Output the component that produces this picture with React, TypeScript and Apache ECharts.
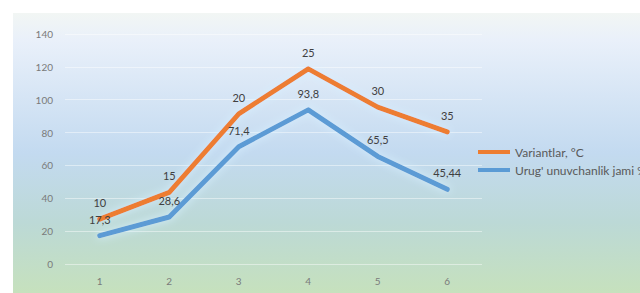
import React, { useEffect, useRef } from "react";
import * as echarts from "echarts";

const categories = ["1", "2", "3", "4", "5", "6"];
const variantValues = [10, 15, 20, 25, 30, 35];
const germinationValues = [17.3, 28.6, 71.4, 93.8, 65.5, 45.44];
const seriesNames = ["Variantlar, °C", "Urug' unuvchanlik jami %"];

const FONT = "Lato, 'Open Sans', sans-serif";
const fmt = (v: number) => String(v).replace(".", ",");

export default function App() {
  const ref = useRef<HTMLDivElement>(null);
  useEffect(() => {
    if (!ref.current) return;
    const chart = echarts.init(ref.current, undefined, { renderer: "svg" });
    chart.setOption({
      animation: false,
      graphic: [
        {
          type: "rect",
          z: -10,
          silent: true,
          shape: { x: 13, y: 13, width: 627, height: 280 },
          style: {
            fill: new echarts.graphic.LinearGradient(0, 0, 0, 1, [
              { offset: 0, color: "#f2f6f4" },
              { offset: 0.1, color: "#e9f0fa" },
              { offset: 0.5, color: "#c3daf0" },
              { offset: 0.75, color: "#bcd9d6" },
              { offset: 1, color: "#c6e1bd" },
            ]),
          },
        },
      ],
      grid: { left: 65, right: 158, top: 34, bottom: 29, containLabel: false },
      legend: {
        orient: "vertical",
        left: 473,
        top: 141,
        padding: 5,
        itemWidth: 32,
        itemHeight: 4,
        itemGap: 6,
        icon: "rect",
        data: seriesNames,
        textStyle: { fontFamily: FONT, fontSize: 12, color: "#595959" },
      },
      xAxis: {
        type: "category",
        data: categories,
        boundaryGap: true,
        axisLine: { show: false },
        axisTick: { show: false },
        axisLabel: { fontFamily: FONT, fontSize: 10, color: "#7a7a7a", margin: 12 },
      },
      yAxis: {
        type: "value",
        min: 0,
        max: 140,
        interval: 20,
        axisLine: { show: false },
        axisTick: { show: false },
        axisLabel: { fontFamily: FONT, fontSize: 10, color: "#7a7a7a", margin: 12 },
        splitLine: { lineStyle: { color: "rgba(255,255,255,0.45)", width: 1 } },
      },
      series: [
        {
          name: seriesNames[1],
          type: "line",
          stack: "total",
          data: germinationValues,
          symbol: "circle",
          symbolSize: 0,
          showSymbol: true,
          itemStyle: { color: "#5b9bd5" },
          lineStyle: {
            width: 5,
            color: "#5b9bd5",
            cap: "round",
            join: "round",
            shadowColor: "rgba(215,240,255,1)",
            shadowBlur: 8,
          },
          label: {
            show: true,
            position: "top",
            distance: 11,
            formatter: (p: any) => fmt(p.value),
            fontFamily: FONT,
            fontSize: 11,
            color: "#404040",
          },
        },
        {
          name: seriesNames[0],
          type: "line",
          stack: "total",
          data: variantValues,
          symbol: "circle",
          symbolSize: 0,
          showSymbol: true,
          itemStyle: { color: "#ed7d31" },
          lineStyle: {
            width: 5,
            color: "#ed7d31",
            cap: "round",
            join: "round",
            shadowColor: "rgba(215,240,255,1)",
            shadowBlur: 8,
          },
          label: {
            show: true,
            position: "top",
            distance: 11,
            formatter: (p: any) => fmt(p.value),
            fontFamily: FONT,
            fontSize: 11,
            color: "#404040",
          },
        },
      ],
    });
    return () => chart.dispose();
  }, []);
  return (
    <div
      ref={ref}
      style={{
        position: "absolute",
        left: 0,
        top: 0,
        width: 640,
        height: 293,
        overflow: "hidden",
        background: "#ffffff",
      }}
    />
  );
}
